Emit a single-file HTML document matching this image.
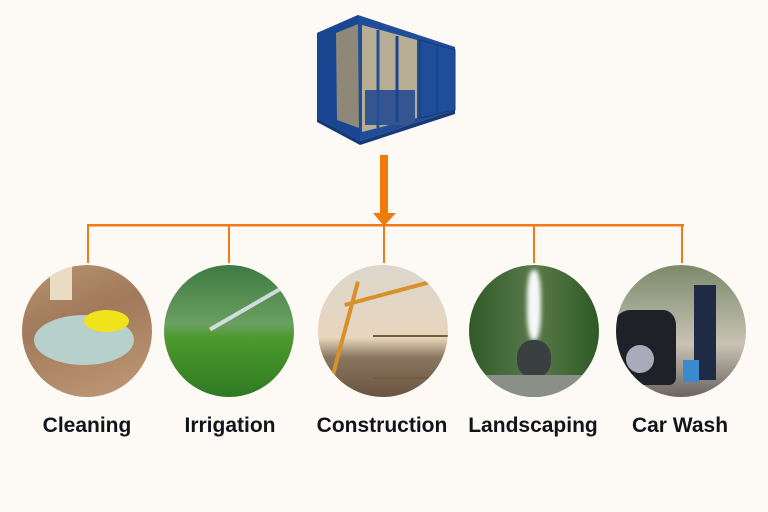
<!DOCTYPE html>
<html><head><meta charset="utf-8"><style>
body{margin:0;width:768px;height:512px;background:#fdf9f4;position:relative;overflow:hidden;font-family:"Liberation Sans",sans-serif}
.c{position:absolute;top:265px;width:130px;height:132px;border-radius:50%;overflow:hidden}
.l{position:absolute;top:414px;width:160px;text-align:center;font-size:21px;font-weight:600;color:#111419}
.v{position:absolute;top:225px;width:2px;height:38px;background:#f07a1a}
</style></head><body>
<svg width="768" height="512" style="position:absolute;left:0;top:0">
 <polygon points="317,33 358,15 455,47 455,110 360,141 317,118" fill="#1f4d9a"/>
 <polygon points="317,33 358,15 360,141 317,118" fill="#1a4590"/>
 <polygon points="336,33 358,24 359,128 337,120" fill="#8f8878"/>
 <polygon points="362,25 417,40 417,118 362,132" fill="#b8ae94"/>
 <rect x="365" y="90" width="50" height="35" fill="#34558f"/>
 <line x1="397" y1="36" x2="397" y2="122" stroke="#1a4590" stroke-width="3"/>
 <line x1="378" y1="30" x2="378" y2="128" stroke="#244f96" stroke-width="3"/>
 <polygon points="420,40 455,50 455,110 420,118" fill="#1f4d9a" stroke="#163a78"/>
 <line x1="437" y1="45" x2="437" y2="114" stroke="#163a78"/>
 <polygon points="317,118 360,141 455,110 455,114 360,145 317,122" fill="#163a78"/>
 <rect x="380" y="155" width="8" height="60" fill="#f07a0a"/>
 <polygon points="373,213 396,213 384,226" fill="#f07a0a"/>
 <rect x="87" y="224" width="597" height="2.5" fill="#f07a1a"/>
</svg>
<div class="v" style="left:87px"></div><div class="v" style="left:228px"></div><div class="v" style="left:383px"></div><div class="v" style="left:533px"></div><div class="v" style="left:681px"></div>
<div class="c" style="left:22px;background:linear-gradient(160deg,#b89473 0%,#a07a5a 40%,#c09a78 100%)">
 <div style="position:absolute;left:12px;top:50px;width:100px;height:50px;border-radius:50%;background:#b7d0cc"></div>
 <div style="position:absolute;left:62px;top:45px;width:45px;height:22px;border-radius:50%;background:#f2e21a"></div>
 <div style="position:absolute;left:28px;top:0;width:22px;height:35px;background:#e8dcc3"></div>
</div>
<div class="c" style="left:164px;background:linear-gradient(180deg,#3f7a44 0%,#6aa060 45%,#4c9a2e 55%,#2f7a22 100%)">
 <div style="position:absolute;left:40px;top:40px;width:90px;height:4px;background:#eef;transform:rotate(-30deg);opacity:.8"></div>
</div>
<div class="c" style="left:318px;background:linear-gradient(180deg,#dcd6cc 0%,#e8d6bd 55%,#8a7660 70%,#6a5440 100%)">
 <div style="position:absolute;left:25px;top:15px;width:4px;height:100px;background:#d8902a;transform:rotate(15deg)"></div>
 <div style="position:absolute;left:25px;top:25px;width:100px;height:4px;background:#d8902a;transform:rotate(-15deg)"></div>
 <div style="position:absolute;left:55px;top:70px;width:75px;height:40px;border:2px solid #7a5a3a;border-width:2px 0"></div>
</div>
<div class="c" style="left:469px;background:linear-gradient(90deg,#2f5a28 0%,#5a7a4a 50%,#2e5a24 100%)">
 <div style="position:absolute;left:58px;top:5px;width:14px;height:70px;background:#f4f8f8;border-radius:40%;filter:blur(2px)"></div>
 <div style="position:absolute;left:48px;top:75px;width:34px;height:38px;border-radius:45%;background:#3a4040"></div>
 <div style="position:absolute;left:5px;top:110px;width:120px;height:22px;background:#8a9088"></div>
</div>
<div class="c" style="left:616px;background:linear-gradient(180deg,#7a8a6a 0%,#c9c2b4 60%,#6a6460 100%)">
 <div style="position:absolute;left:-5px;top:45px;width:65px;height:75px;border-radius:30% 20% 10% 10%;background:#1e2228"></div>
 <div style="position:absolute;left:10px;top:80px;width:28px;height:28px;border-radius:50%;background:#aab"></div>
 <div style="position:absolute;left:78px;top:20px;width:22px;height:95px;background:#1f2a44"></div>
 <div style="position:absolute;left:67px;top:95px;width:16px;height:22px;background:#3a8ad0"></div>
</div>
<div class="l" style="left:7px">Cleaning</div>
<div class="l" style="left:150px">Irrigation</div>
<div class="l" style="left:302px">Construction</div>
<div class="l" style="left:453px">Landscaping</div>
<div class="l" style="left:600px">Car Wash</div>
</body></html>
